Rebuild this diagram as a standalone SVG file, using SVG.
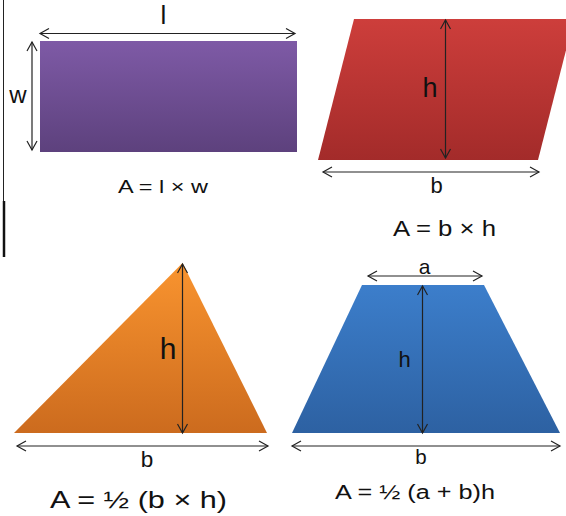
<svg xmlns="http://www.w3.org/2000/svg" width="566" height="516" viewBox="0 0 566 516">
<defs>
<linearGradient id="gPurple" x1="0" y1="0" x2="0" y2="1"><stop offset="0" stop-color="#7e5aa6"/><stop offset="1" stop-color="#5d417d"/></linearGradient>
<linearGradient id="gRed" x1="0" y1="0" x2="0" y2="1"><stop offset="0" stop-color="#cd3e3b"/><stop offset="1" stop-color="#a32b2a"/></linearGradient>
<linearGradient id="gOrange" x1="0" y1="0" x2="0" y2="1"><stop offset="0" stop-color="#f9942f"/><stop offset="1" stop-color="#cc6b1e"/></linearGradient>
<linearGradient id="gBlue" x1="0" y1="0" x2="0" y2="1"><stop offset="0" stop-color="#3c7ecb"/><stop offset="1" stop-color="#2d61a2"/></linearGradient>
<marker id="chev" viewBox="-10 -6 12 12" refX="0" refY="0" markerWidth="12" markerHeight="12" markerUnits="userSpaceOnUse" orient="auto-start-reverse">
<path d="M-9,-5 L0,0 L-9,5" fill="none" stroke="#222" stroke-width="1.2"/>
</marker>
</defs>
<style>
.dim{stroke:#222;stroke-width:1.2;fill:none;marker-start:url(#chev);marker-end:url(#chev)}
.lbl{font-family:"Liberation Sans","DejaVu Sans",sans-serif;fill:#111;text-anchor:middle}
</style>
<g id="frame">
<line x1="3.5" y1="0" x2="3.5" y2="201" stroke="#222" stroke-width="1"/>
<line x1="4" y1="201" x2="4" y2="257" stroke="#111" stroke-width="2.5"/>
</g>
<g id="rectangle">
<rect x="40" y="41" width="257" height="111" fill="url(#gPurple)"/>
<text class="lbl" x="163.5" y="24" font-size="26">l</text>
<text class="lbl" x="18" y="103" font-size="24">w</text>
<text class="lbl" x="163" y="192.5" font-size="17.5" textLength="90" lengthAdjust="spacingAndGlyphs">A = l × w</text>
</g>
<g id="parallelogram">
<polygon points="354,19 574,19 538,160 318,160" fill="url(#gRed)"/>
<text class="lbl" x="430" y="97" font-size="27">h</text>
<text class="lbl" x="436.5" y="193" font-size="22">b</text>
<text class="lbl" x="444.5" y="236" font-size="22" textLength="103" lengthAdjust="spacingAndGlyphs">A = b × h</text>
</g>
<g id="triangle">
<polygon points="182.5,263 267,433 14,433" fill="url(#gOrange)"/>
<text class="lbl" x="168" y="359" font-size="30">h</text>
<text class="lbl" x="147" y="467" font-size="22.5">b</text>
<text class="lbl" x="138.5" y="508" font-size="24" textLength="177" lengthAdjust="spacingAndGlyphs">A = ½ (b × h)</text>
</g>
<g id="trapezoid">
<polygon points="362,285 484,285 560,433 292,433" fill="url(#gBlue)"/>
<text class="lbl" x="424.5" y="274" font-size="21">a</text>
<text class="lbl" x="404.5" y="367" font-size="22">h</text>
<text class="lbl" x="421" y="463.5" font-size="20.5">b</text>
<text class="lbl" x="415" y="499" font-size="20" textLength="160" lengthAdjust="spacingAndGlyphs">A = ½ (a + b)h</text>
</g>
<g id="connectors">
<line class="dim" x1="40" y1="33.5" x2="295" y2="33.5"/>
<line class="dim" x1="32" y1="42" x2="32" y2="150"/>
<line class="dim" x1="445.5" y1="20" x2="445.5" y2="158"/>
<line class="dim" x1="323" y1="172" x2="539" y2="172"/>
<line class="dim" x1="182.5" y1="264" x2="182.5" y2="433"/>
<line class="dim" x1="17" y1="446" x2="268" y2="446"/>
<line class="dim" x1="368" y1="276" x2="482" y2="276"/>
<line class="dim" x1="422.5" y1="286" x2="422.5" y2="433"/>
<line class="dim" x1="292" y1="446" x2="560" y2="446"/>
</g>
</svg>
